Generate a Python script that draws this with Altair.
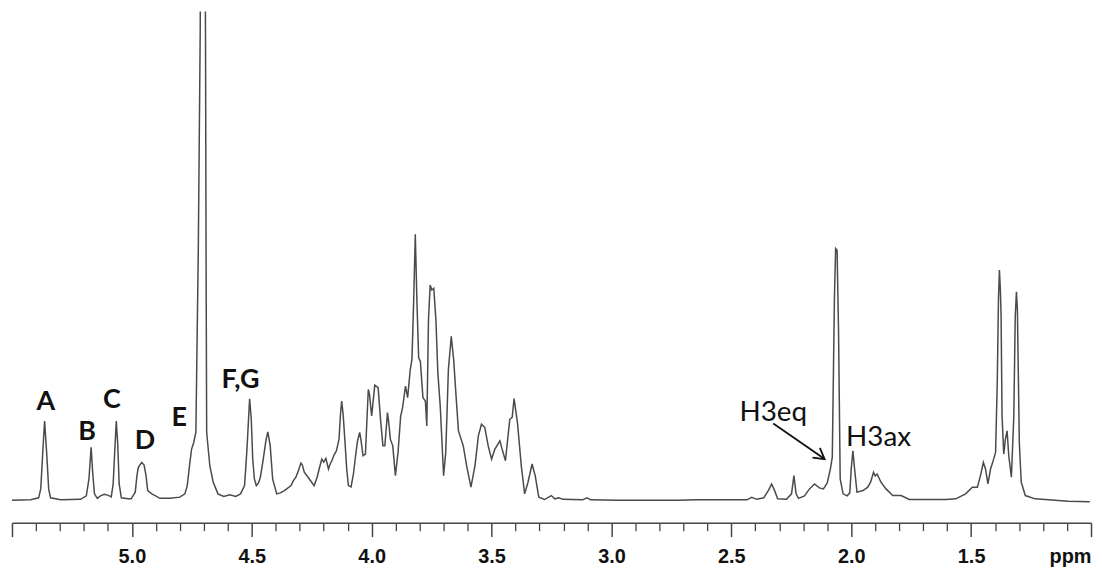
import altair as alt
import pandas as pd

# Spectrum trace (chemical shift in ppm, intensity in arbitrary units above baseline)
ppm = [5.505, 5.422, 5.389, 5.380, 5.372, 5.364, 5.355, 5.347, 5.339, 5.297, 5.214, 5.190, 5.179, 5.170, 5.163,
       5.156, 5.144, 5.131, 5.115, 5.098, 5.086, 5.078, 5.071, 5.065, 5.059, 5.053, 5.044, 5.015, 5.003, 4.986,
       4.979, 4.973, 4.959, 4.949, 4.941, 4.934, 4.917, 4.903, 4.883, 4.841, 4.800, 4.779, 4.769, 4.758, 4.751,
       4.742, 4.733, 4.723, 4.715, 4.703, 4.693, 4.690, 4.688, 4.675, 4.661, 4.641, 4.617, 4.592, 4.567, 4.547,
       4.530, 4.520, 4.509, 4.502, 4.496, 4.489, 4.481, 4.472, 4.464, 4.454, 4.440, 4.433, 4.423, 4.413, 4.396,
       4.381, 4.364, 4.336, 4.327, 4.316, 4.306, 4.295, 4.289, 4.281, 4.260, 4.240, 4.227, 4.219, 4.208, 4.200,
       4.191, 4.180, 4.173, 4.166, 4.157, 4.147, 4.136, 4.130, 4.125, 4.119, 4.111, 4.104, 4.097, 4.086, 4.076,
       4.067, 4.059, 4.050, 4.045, 4.036, 4.026, 4.014, 4.009, 4.000, 3.993, 3.987, 3.973, 3.963, 3.953, 3.945,
       3.934, 3.928, 3.922, 3.912, 3.901, 3.890, 3.879, 3.871, 3.859, 3.850, 3.839, 3.832, 3.825, 3.818, 3.811,
       3.804, 3.797, 3.786, 3.776, 3.770, 3.763, 3.756, 3.749, 3.741, 3.732, 3.724, 3.714, 3.700, 3.691, 3.680,
       3.668, 3.658, 3.648, 3.638, 3.618, 3.604, 3.586, 3.569, 3.555, 3.542, 3.528, 3.514, 3.500, 3.486, 3.465,
       3.456, 3.442, 3.424, 3.414, 3.406, 3.392, 3.376, 3.362, 3.348, 3.331, 3.318, 3.303, 3.279, 3.251, 3.236,
       3.219, 3.203, 3.120, 3.102, 3.087, 2.975, 2.726, 2.643, 2.435, 2.415, 2.394, 2.365, 2.344, 2.332, 2.319,
       2.307, 2.270, 2.249, 2.239, 2.230, 2.220, 2.195, 2.174, 2.153, 2.133, 2.116, 2.100, 2.087, 2.079, 2.070,
       2.065, 2.059, 2.053, 2.046, 2.034, 2.017, 2.006, 2.000, 1.993, 1.986, 1.976, 1.951, 1.931, 1.919, 1.907,
       1.900, 1.892, 1.876, 1.855, 1.827, 1.792, 1.758, 1.606, 1.564, 1.523, 1.495, 1.474, 1.461, 1.449, 1.440,
       1.430, 1.419, 1.410, 1.398, 1.391, 1.386, 1.382, 1.378, 1.375, 1.371, 1.364, 1.357, 1.350, 1.343, 1.332,
       1.322, 1.316, 1.311, 1.307, 1.299, 1.291, 1.274, 1.233, 1.095, 1.005]

intensity = [0.0, 0.5, 2.5, 11.5, 46.5, 79.8, 46.5, 11.5, 2.5, 0.5, 1.0, 4.5, 21.5, 53.2, 26.5,
             6.5, 2.0, 4.5, 6.0, 5.0, 3.5, 16.5, 51.5, 79.8, 56.5, 16.5, 2.5, 1.5, 1.5, 8.2,
             24.5, 33.2, 38.2, 35.5, 24.8, 9.8, 6.5, 4.8, 2.0, 2.2, 3.2, 6.5, 14.8, 38.2, 51.5,
             58.2, 68.5, 251.5, 471.5, 1100.0, 471.5, 201.5, 68.5, 34.8, 18.5, 6.5, 4.0, 5.5, 4.0, 6.5,
             14.8, 51.5, 102.2, 81.5, 41.5, 21.5, 14.8, 17.5, 23.5, 38.5, 61.5, 68.8, 54.8, 21.5, 6.5,
             7.5, 9.8, 14.8, 19.5, 23.2, 29.5, 37.5, 35.5, 28.2, 21.5, 14.8, 23.5, 31.5, 41.5, 38.5,
             42.2, 31.5, 36.5, 39.8, 45.5, 49.8, 61.5, 86.5, 99.8, 86.5, 58.2, 31.5, 14.8, 13.5, 26.5,
             44.8, 59.5, 68.2, 61.5, 44.8, 46.5, 111.5, 106.5, 84.8, 101.5, 115.8, 113.2, 81.5, 54.8, 54.8,
             88.2, 76.5, 61.5, 54.8, 24.8, 48.2, 84.8, 93.2, 114.8, 103.2, 131.5, 141.5, 198.2, 267.5, 198.2,
             143.2, 139.8, 103.2, 99.8, 74.8, 181.5, 216.5, 211.5, 213.2, 181.5, 128.2, 94.8, 24.8, 48.2, 131.5,
             164.8, 141.5, 104.8, 69.8, 54.8, 34.8, 13.2, 34.8, 64.8, 76.5, 73.2, 54.8, 41.5, 51.5, 59.8,
             51.5, 39.8, 81.5, 83.5, 102.2, 78.2, 34.8, 6.5, 18.2, 36.5, 24.8, 3.2, 0.8, 4.8, 1.5,
             2.5, 1.0, 0.5, 2.5, 0.5, 0.0, 0.0, 0.5, 0.5, 3.0, 1.0, 2.5, 10.5, 16.5, 9.5,
             1.5, 1.0, 6.5, 24.8, 6.5, 2.0, 4.5, 11.5, 16.5, 12.5, 11.5, 17.5, 31.5, 43.5, 204.8,
             253.2, 251.5, 171.5, 21.5, 6.5, 4.5, 7.5, 31.5, 49.8, 31.5, 8.2, 9.8, 13.2, 18.5, 28.2,
             24.5, 26.5, 18.2, 11.5, 4.8, 4.8, 0.8, 0.8, 1.5, 6.5, 13.2, 13.2, 24.8, 38.2, 31.5,
             16.5, 31.5, 38.2, 48.2, 118.2, 201.5, 231.5, 211.5, 184.8, 84.8, 46.5, 61.5, 69.8, 44.8, 23.2,
             84.8, 184.8, 209.8, 191.5, 58.2, 18.2, 4.8, 1.5, -1.0, -1.5]

# Peak labels
peak_labels = ["A", "B", "C", "D", "E", "F,G"]
peak_label_ppm = [5.359, 5.187, 5.083, 4.945, 4.803, 4.547]
peak_label_int = [90.8, 60.5, 93.2, 51.5, 74.8, 112.5]

h3_labels = ["H3eq", "H3ax"]
h3_label_ppm = [2.325, 1.886]
h3_label_int = [79.8, 54.8]

# Arrow from the H3eq label to its shoulder
arrow_ppm = [2.325, 2.111]
arrow_int = [77.2, 41.5]

# Axis ticks
major_ticks = [5.5, 5.0, 4.5, 4.0, 3.5, 3.0, 2.5, 2.0, 1.5, 1.0]
minor_ticks = [5.4, 5.3, 5.2, 5.1, 4.9, 4.8, 4.7, 4.6, 4.4, 4.3, 4.2, 4.1, 3.9, 3.8, 3.7, 3.6,
               3.4, 3.3, 3.2, 3.1, 2.9, 2.8, 2.7, 2.6, 2.4, 2.3, 2.2, 2.1, 1.9, 1.8, 1.7, 1.6,
               1.4, 1.3, 1.2, 1.1]

spec_df = pd.DataFrame({"ppm": ppm, "intensity": intensity})
peak_df = pd.DataFrame({"ppm": peak_label_ppm, "intensity": peak_label_int, "label": peak_labels})
h3_df = pd.DataFrame({"ppm": h3_label_ppm, "intensity": h3_label_int, "label": h3_labels})
arrow_df = pd.DataFrame({"x1": [arrow_ppm[0]], "x2": [arrow_ppm[1]],
                         "y1": [arrow_int[0]], "y2": [arrow_int[1]]})
head_df = pd.DataFrame({"ppm": [arrow_ppm[1]], "intensity": [arrow_int[1]]})

x_scale = alt.Scale(domain=[1.0, 5.5], reverse=True, nice=False, zero=False)
y_scale = alt.Scale(domain=[-22.5, 491.5], nice=False, zero=False)

AX_COLOR = "#454545"

minor_axis = alt.Axis(values=minor_ticks, tickSize=8, labels=False, domain=True,
                      domainColor=AX_COLOR, domainWidth=1.6, tickColor=AX_COLOR, tickWidth=1.3,
                      grid=False, title=None, orient="bottom")
major_axis = alt.Axis(values=major_ticks, tickSize=14, labels=True,
                      labelExpr="datum.value == 1 ? 'ppm' : (datum.value == 5.5 ? '' : format(datum.value, '.1f'))",
                      labelFlush=True, labelOverlap=False, labelFont="Liberation Sans", labelFontSize=20,
                      labelFontWeight="bold", labelColor="#111111", labelPadding=10,
                      domain=False, tickColor=AX_COLOR, tickWidth=1.5, grid=False, title=None,
                      orient="bottom")

spectrum = alt.Chart(spec_df).mark_line(clip=True, color="#4a4a4a", strokeWidth=1.5).encode(
    x=alt.X("ppm:Q", scale=x_scale, axis=minor_axis),
    y=alt.Y("intensity:Q", scale=y_scale, axis=None),
)

peak_text = alt.Chart(peak_df).mark_text(font="Lato", fontSize=27, fontWeight="bold",
                                         baseline="alphabetic", align="center", color="#111111").encode(
    x=alt.X("ppm:Q", scale=x_scale, axis=major_axis),
    y=alt.Y("intensity:Q", scale=y_scale, axis=None),
    text="label:N",
)

h3_text = alt.Chart(h3_df).mark_text(font="Lato", fontSize=28, baseline="alphabetic",
                                     align="center", color="#111111").encode(
    x=alt.X("ppm:Q", scale=x_scale, axis=None),
    y=alt.Y("intensity:Q", scale=y_scale, axis=None),
    text="label:N",
)

arrow_shaft = alt.Chart(arrow_df).mark_rule(color="#111111", strokeWidth=1.8).encode(
    x=alt.X("x1:Q", scale=x_scale, axis=None),
    x2="x2:Q",
    y=alt.Y("y1:Q", scale=y_scale, axis=None),
    y2="y2:Q",
)

arrow_head = alt.Chart(head_df).mark_point(shape="M-0.5,0.866L0,0L0.5,0.866", filled=False,
                                           stroke="#111111", strokeWidth=1.8, size=600,
                                           angle=127, opacity=1).encode(
    x=alt.X("ppm:Q", scale=x_scale, axis=None),
    y=alt.Y("intensity:Q", scale=y_scale, axis=None),
)

chart = alt.layer(spectrum, peak_text, h3_text, arrow_shaft, arrow_head).resolve_axis(
    x="independent"
).properties(
    width=1085, height=514,
    padding={"left": 3, "top": 2, "right": 2, "bottom": 0},
    background="white",
).configure_view(stroke=None)

chart.save("out.html", embed_options={"renderer": "svg", "actions": False})
